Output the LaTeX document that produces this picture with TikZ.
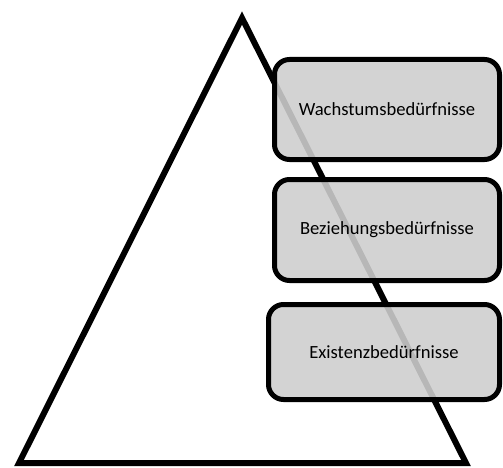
\documentclass[tikz,border=0pt]{standalone}
\usepackage{fontspec}
\setmainfont{Carlito}
\definecolor{boxgray}{RGB}{206,206,206}
\tikzset{
  needbox/.style={draw=black, line width=5pt, rounded corners=15pt, fill=boxgray, fill opacity=0.89, text opacity=1, draw opacity=1, font=\fontsize{18.6}{22}\selectfont, text=black, inner sep=0pt},
  pyramid/.style={draw=black, line width=6pt, line join=miter}
}
\begin{document}
\begin{tikzpicture}[x=1pt,y=-1pt]
\useasboundingbox (0,0) rectangle (503,468);
\coordinate (apex) at (242,18);
\coordinate (bl) at (19,463);
\coordinate (br) at (466,463);
\draw[pyramid] (apex) -- (br) -- (bl) -- cycle;
\node[needbox, minimum width=225pt, minimum height=100pt] (w) at (387,109.5) {Wachstumsbedürfnisse};
\node[needbox, minimum width=225pt, minimum height=101pt] (b) at (387,230) {Beziehungsbedürfnisse};
\node[needbox, minimum width=231pt, minimum height=95pt] (e) at (384,352) {Existenzbedürfnisse};
\end{tikzpicture}
\end{document}
